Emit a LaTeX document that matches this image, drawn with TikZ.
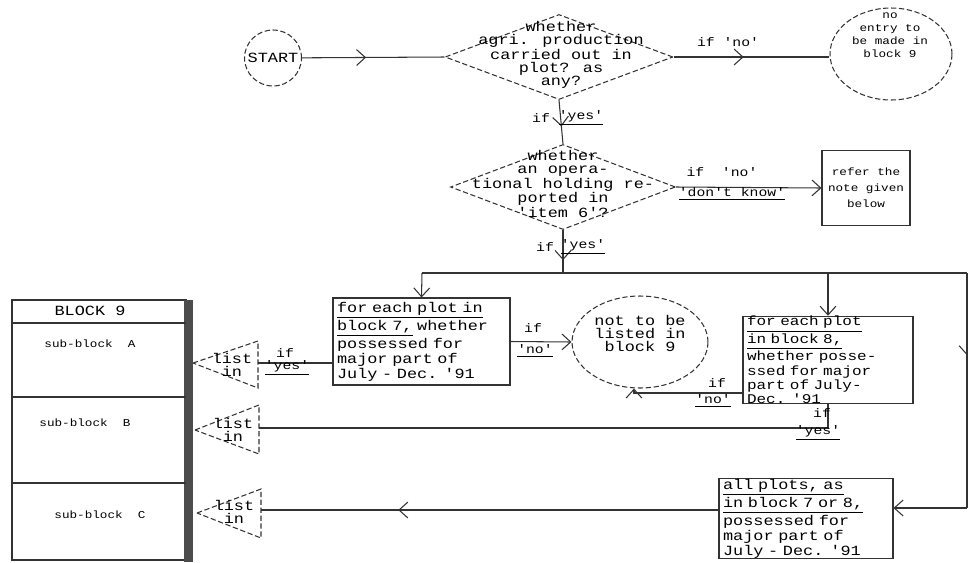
\documentclass[tikz,border=0pt]{standalone}
\usepackage{fontspec}
\newfontfamily\tw[FakeStretch=1.2]{Liberation Mono}
\usetikzlibrary{shapes.geometric,arrows.meta,decorations.markings}
\tikzset{
  flow/.style={draw=black!80,line width=0.6pt},
  tip/.style={-{Straight Barb[length=5pt,width=9pt]}},
  midarrow/.style={decoration={markings,
      mark=at position #1 with {\arrow{Straight Barb[length=5pt,width=9pt]}}},
    postaction={decorate}},
  txt/.style={font=\tw\fontsize{8}{7.4}\selectfont,align=center,inner sep=0pt},
  lbl/.style={font=\tw\fontsize{7}{7.4}\selectfont,inner sep=0pt},
  small/.style={font=\tw\fontsize{6}{7.4}\selectfont,align=center,inner sep=0pt},
  decision/.style={diamond,draw=black!80,line width=0.6pt,
    dash pattern=on 3pt off 1.5pt,inner sep=0pt},
  round/.style={ellipse,draw=black!80,line width=0.6pt,
    dash pattern=on 3pt off 1.5pt,inner sep=0pt},
  boxed/.style={rectangle,draw=black!80,line width=0.6pt,align=left,
    inner xsep=0.08cm,inner ysep=0pt,font=\tw\fontsize{8}{7.4}\selectfont},
  tri/.style={draw=black!80,line width=0.6pt,dash pattern=on 3pt off 1.5pt},
}
\begin{document}
\begin{tikzpicture}[x=0.02cm,y=-0.02cm]
\useasboundingbox (0,0) rectangle (968,562);

% top part
\node[round,minimum width=1.14cm,minimum height=1.12cm] (start) at (273,58) {};
\node[txt] (startt) at (start) {START};
\node[decision,minimum width=4.56cm,minimum height=1.7cm] (d1) at (559,57) {};
\node[txt] (d1t) at (561,55) {whether\\agri. production\\carried out in\\plot? as\\any?};
\node[round,minimum width=2.44cm,minimum height=1.84cm] (noentry) at (891,54) {};
\node[small] (noentryt) at (890,35) {no\\entry to\\be made in\\block 9};
\node[decision,minimum width=4.5cm,minimum height=1.7cm] (d2) at (563,187) {};
\node[txt] (d2t) at (563,184) {whether\\an opera-\\tional holding re-\\ported in\\'item 6'?};
\node[boxed,font=\tw\fontsize{6}{9}\selectfont,align=center,
  minimum width=1.76cm,minimum height=1.5cm] (refer) at (866,188) {refer the\\note given\\below};

\draw[flow,midarrow=0.45] (start) -- (d1.west);
\draw[flow,midarrow=0.45] (d1.east) -- (d1.east -| noentry.west);
\node[lbl] (l1) at (728,42) {if 'no'};
\draw[flow,midarrow=0.6] (d1.south) -- (d2.north);
\node[lbl] (l2) at (541,118) {if};
\node[lbl] (l3) at (581,118) {\underline{'yes'}};
\draw[flow,tip] (d2.east) -- (refer.west);
\node[lbl] (l4) at (722,172) {if \ 'no'};
\node[lbl] (l5) at (732,194) {\underline{'don't know'}};

% split line
\coordinate (hj) at (563,273);
\coordinate (tl) at (422,273);
\coordinate (tm) at (828,273);
\coordinate (tr) at (967,273);
\coordinate (br) at (967,508);
\draw[flow,midarrow=0.7] (d2.south) -- (hj);
\node[lbl] (l6) at (545,247) {if};
\node[lbl] (l7) at (583,247) {\underline{'yes'}};
\draw[flow] (tl) -- (tr);

% plot boxes
\node[boxed,text width=3.38cm,minimum height=1.74cm] (b1) at (421.5,341.5)
  {\underline{for each plot in}\\\underline{block 7,} whether\\possessed for\\major part of\\July - Dec. '91};
\node[boxed,text width=3.24cm,minimum height=1.68cm,
  font=\tw\fontsize{7.6}{6.6}\selectfont] (b2) at (828,360)
  {\underline{for each plot}\\\underline{in block 8,}\\whether posse-\\ssed for major\\part of July-\\Dec. '91};
\node[boxed,text width=3.32cm,minimum height=1.54cm] (b3) at (806,518.5)
  {\underline{all plots, as}\\\underline{in block 7 or 8,}\\possessed for\\major part of\\July - Dec. '91};
\node[round,minimum width=2.72cm,minimum height=1.84cm] (notlist) at (640,342) {};
\node[txt] (notlistt) at (640,333) {not to be\\listed in\\block 9};

\draw[flow,tip] (tl) -- (b1.north);
\draw[flow,tip] (tm) -- (b2.north);
\draw[flow,midarrow=0.35] (tr) -- (br);
\draw[flow,tip] (br) -- (b3.east |- br);
\draw[flow,tip] (b1.east) -- (notlist.west);
\node[lbl] (l8) at (533,328) {if};
\node[lbl] (l9) at (535,351) {\underline{'no'}};
\coordinate (cb) at (634,393);
\draw[flow,tip] (b2.west |- cb) -- (cb) -- (notlist.south -| cb);
\node[lbl] (l10) at (717,383) {if};
\node[lbl] (l11) at (713,401) {\underline{'no'}};

% triangles
\coordinate (ta) at (258,363);
\coordinate (tb) at (259,428);
\coordinate (tc) at (261,510);
\draw[tri] (193,363) -- (258,341) -- (258,388) -- cycle;
\draw[tri] (195,430) -- (259,405) -- (259,454) -- cycle;
\draw[tri] (197,513) -- (261,489) -- (261,538) -- cycle;
\node[txt] (ta1) at (232,365) {list\\in};
\node[txt] (tb1) at (233,430) {list\\in};
\node[txt] (tc1) at (234,512) {list\\in};
\draw[flow] (b1.west |- ta) -- (ta);
\node[lbl] (l12) at (285,353) {if};
\node[lbl] (l13) at (287,368) {\underline{'yes'}};
\draw[flow] (b2.south) |- (tb);
\node[lbl] (l14) at (822,413) {if};
\node[lbl] (l15) at (818,433) {\underline{'yes'}};
\draw[flow,midarrow=0.7] (b3.west |- tc) -- (tc);

% block 9
\draw[flow] (12,300) rectangle (186,560);
\fill[black!70] (184,300) rectangle (193,562);
\draw[flow] (12,323) -- (186,323);
\draw[flow] (12,397) -- (186,397);
\draw[flow] (12,483) -- (186,483);
\node[txt] (blk) at (90,311) {BLOCK 9};
\node[small] (sba) at (90,344) {sub-block \ A};
\node[small] (sbb) at (85,423) {sub-block \ B};
\node[small] (sbc) at (100,515) {sub-block \ C};
\end{tikzpicture}
\end{document}
